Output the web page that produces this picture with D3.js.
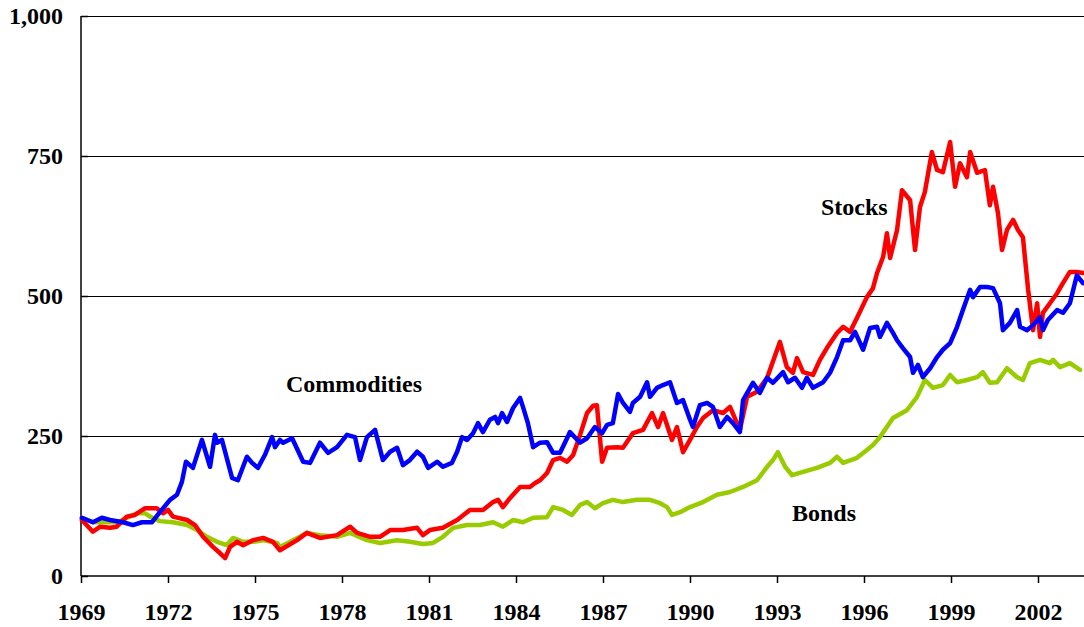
<!DOCTYPE html>
<html>
<head>
<meta charset="utf-8">
<script src="https://cdn.jsdelivr.net/npm/d3@7"></script>
<style>
  html, body { margin: 0; padding: 0; background: #fff; }
  svg { display: block; }
  text { font-family: "Liberation Serif", "Times New Roman", serif; font-weight: bold; fill: #000; }
</style>
</head>
<body>
<svg id="chart" width="1084" height="627"></svg>
<script>
// ---- Data (decimal year, index value) ----
const yTicks = [0, 250, 500, 750, 1000];
const xTicks = [1969, 1972, 1975, 1978, 1981, 1984, 1987, 1990, 1993, 1996, 1999, 2002];

const stocks = [
  [1969.03,100],[1969.41,79],[1969.66,88],[1970.00,86],[1970.23,88],[1970.58,106],[1970.86,109],
  [1971.21,121],[1971.61,121],[1971.83,112],[1972.00,118],[1972.17,106],[1972.66,100],[1972.93,91],
  [1973.21,70],[1973.55,52],[1973.79,41],[1973.97,32],[1974.14,52],[1974.38,61],[1974.59,55],
  [1974.93,64],[1975.28,68],[1975.62,61],[1975.86,46],[1976.45,64],[1976.79,77],[1977.24,68],
  [1977.83,73],[1978.28,88],[1978.52,77],[1978.97,70],[1979.31,70],[1979.66,82],[1980.10,82],
  [1980.59,86],[1980.79,73],[1981.03,82],[1981.48,86],[1981.97,100],[1982.41,118],[1982.86,118],
  [1983.21,132],[1983.38,136],[1983.55,123],[1983.79,139],[1984.14,159],[1984.48,159],[1984.66,166],
  [1984.83,171],[1985.07,184],[1985.28,207],[1985.52,211],[1985.76,204],[1985.97,216],[1986.21,252],
  [1986.45,291],[1986.66,304],[1986.79,305],[1986.97,204],[1987.14,229],[1987.48,230],[1987.69,229],
  [1988.03,255],[1988.38,261],[1988.69,291],[1988.90,266],[1989.07,291],[1989.38,243],[1989.55,266],
  [1989.76,221],[1990.00,243],[1990.24,266],[1990.45,282],[1990.79,296],[1991.14,291],[1991.38,302],
  [1991.72,261],[1991.97,320],[1992.31,329],[1992.66,354],[1993.10,418],[1993.34,373],[1993.55,363],
  [1993.69,389],[1993.90,364],[1994.24,359],[1994.48,386],[1994.72,407],[1995.07,434],[1995.28,445],
  [1995.52,436],[1995.76,461],[1996.10,498],[1996.31,514],[1996.45,541],[1996.66,570],[1996.79,612],
  [1996.90,568],[1997.14,618],[1997.31,689],[1997.59,671],[1997.76,582],[1997.93,659],[1998.10,686],
  [1998.34,757],[1998.52,725],[1998.72,721],[1998.97,775],[1999.14,695],[1999.31,737],[1999.55,712],
  [1999.66,757],[1999.90,720],[2000.17,725],[2000.34,662],[2000.45,695],[2000.62,648],[2000.76,582],
  [2000.93,618],[2001.14,636],[2001.31,618],[2001.48,605],[2001.66,511],[2001.83,439],[2001.97,487],
  [2002.07,427],[2002.17,470],[2002.41,487],[2002.66,505],[2002.86,523],[2003.10,543],[2003.34,543],
  [2003.55,541]
];

const commodities = [
  [1969.03,104],[1969.41,96],[1969.72,104],[1970.00,100],[1970.45,96],[1970.79,91],[1971.10,96],
  [1971.45,96],[1971.72,114],[1972.07,136],[1972.31,145],[1972.48,168],[1972.62,204],[1972.86,193],
  [1973.17,243],[1973.45,195],[1973.62,252],[1973.69,238],[1973.86,243],[1974.21,175],[1974.41,171],
  [1974.72,213],[1974.90,202],[1975.10,193],[1975.34,216],[1975.59,248],[1975.69,230],[1975.86,243],
  [1975.97,238],[1976.28,246],[1976.66,204],[1976.90,202],[1977.24,238],[1977.52,220],[1977.83,230],
  [1978.17,252],[1978.45,248],[1978.62,207],[1978.86,248],[1979.14,261],[1979.41,207],[1979.66,222],
  [1979.90,229],[1980.10,198],[1980.34,207],[1980.59,222],[1980.79,213],[1980.97,193],[1981.28,204],
  [1981.48,195],[1981.79,202],[1981.97,222],[1982.14,248],[1982.31,243],[1982.52,255],[1982.69,273],
  [1982.86,257],[1983.10,279],[1983.28,284],[1983.38,273],[1983.52,291],[1983.69,275],[1983.90,300],
  [1984.14,318],[1984.24,302],[1984.41,273],[1984.59,230],[1984.83,238],[1985.07,239],[1985.28,220],
  [1985.52,220],[1985.76,246],[1985.86,257],[1986.21,238],[1986.45,246],[1986.72,266],[1986.97,255],
  [1987.14,270],[1987.34,273],[1987.52,325],[1987.69,309],[1987.93,293],[1988.03,309],[1988.28,320],
  [1988.52,346],[1988.62,320],[1988.86,336],[1989.07,341],[1989.31,346],[1989.55,309],[1989.76,314],
  [1990.00,279],[1990.10,266],[1990.34,305],[1990.59,309],[1990.79,302],[1991.03,266],[1991.28,284],
  [1991.48,273],[1991.72,257],[1991.83,314],[1992.17,345],[1992.41,327],[1992.66,354],[1992.86,345],
  [1993.21,364],[1993.38,346],[1993.62,354],[1993.86,336],[1994.03,354],[1994.24,336],[1994.59,346],
  [1994.83,363],[1995.07,391],[1995.28,421],[1995.52,421],[1995.69,436],[1995.97,404],[1996.21,443],
  [1996.45,445],[1996.55,427],[1996.79,452],[1997.00,434],[1997.14,421],[1997.34,407],[1997.59,391],
  [1997.69,363],[1997.86,377],[1998.03,355],[1998.28,371],[1998.52,391],[1998.72,404],[1998.97,416],
  [1999.21,445],[1999.41,475],[1999.66,511],[1999.76,498],[2000.00,516],[2000.24,516],[2000.45,514],
  [2000.69,487],[2000.79,439],[2001.03,452],[2001.28,475],[2001.38,445],[2001.62,439],[2001.83,448],
  [2002.07,462],[2002.17,439],[2002.34,457],[2002.66,475],[2002.86,470],[2003.10,487],[2003.34,537],
  [2003.55,523]
];

const bonds = [
  [1969.03,104],[1969.41,96],[1969.90,96],[1970.24,96],[1970.59,104],[1970.93,112],[1971.21,112],
  [1971.45,104],[1971.72,98],[1972.17,96],[1972.66,91],[1973.00,82],[1973.34,70],[1973.69,61],
  [1974.03,55],[1974.24,68],[1974.59,61],[1974.93,61],[1975.28,64],[1975.76,59],[1975.86,52],
  [1976.31,64],[1976.79,77],[1977.24,73],[1977.83,70],[1978.28,77],[1978.86,64],[1979.31,59],
  [1979.90,64],[1980.34,61],[1980.79,57],[1981.14,59],[1981.48,70],[1981.83,86],[1982.31,91],
  [1982.76,91],[1983.21,96],[1983.55,88],[1983.90,100],[1984.24,96],[1984.59,104],[1985.07,105],
  [1985.28,123],[1985.62,118],[1985.93,109],[1986.21,127],[1986.45,132],[1986.72,121],[1987.00,130],
  [1987.34,136],[1987.69,132],[1988.17,136],[1988.62,136],[1988.97,130],[1989.21,123],[1989.38,109],
  [1989.66,114],[1990.00,123],[1990.45,132],[1990.93,145],[1991.38,150],[1991.83,159],[1992.31,171],
  [1992.66,195],[1992.86,207],[1993.03,221],[1993.28,195],[1993.52,180],[1993.90,186],[1994.38,193],
  [1994.83,202],[1995.07,213],[1995.28,202],[1995.76,211],[1996.10,225],[1996.31,234],[1996.55,248],
  [1997.00,282],[1997.48,296],[1997.83,320],[1998.10,350],[1998.38,336],[1998.72,341],[1998.97,359],
  [1999.21,346],[1999.55,350],[1999.90,355],[2000.10,364],[2000.34,345],[2000.59,346],[2000.93,371],
  [2001.28,355],[2001.48,350],[2001.72,380],[2002.07,386],[2002.41,380],[2002.52,386],[2002.76,373],
  [2003.10,380],[2003.45,368]
];

const seriesNames = ["Commodities", "Stocks", "Bonds"];

// ---- Layout ----
const svg = d3.select("#chart");
const plotLeft = 81, plotTop = 16, plotBottom = 576;
const x = d3.scaleLinear().domain([1969, 2004]).range([plotLeft, plotLeft + 35 * 29]);
const y = d3.scaleLinear().domain([0, 1000]).range([plotBottom, plotTop]);
const fontSize = "24px";

// gridlines
svg.append("g").selectAll("line").data(yTicks.filter(d => d > 0)).join("line")
  .attr("x1", plotLeft).attr("x2", 1084)
  .attr("y1", d => Math.round(y(d)) + 0.5).attr("y2", d => Math.round(y(d)) + 0.5)
  .attr("stroke", "#000").attr("stroke-width", 1);

// y axis
const yAxis = d3.axisRight(y).tickValues(yTicks).tickSize(7).tickFormat("");
const gy = svg.append("g").attr("transform", `translate(${plotLeft},0)`).call(yAxis);
gy.select(".domain").attr("stroke", "#000").attr("stroke-width", 1.5).attr("d", `M0,${plotTop}V${plotBottom}`);
gy.selectAll(".tick line").attr("stroke", "#000").attr("stroke-width", 1.5);

svg.append("g").selectAll("text").data(yTicks).join("text")
  .attr("x", 63).attr("y", d => y(d))
  .attr("dy", "0.34em")
  .attr("text-anchor", "end")
  .style("font-size", fontSize)
  .text(d => d3.format(",")(d));

// x axis
const xAxis = d3.axisBottom(x).tickValues(xTicks).tickSize(7).tickFormat(d => d);
const gx = svg.append("g").attr("transform", `translate(0,${plotBottom})`).call(xAxis);
gx.select(".domain").attr("stroke", "#000").attr("stroke-width", 1.5).attr("d", `M${plotLeft},0H1084`);
gx.selectAll(".tick line").attr("stroke", "#000").attr("stroke-width", 1.5);
gx.selectAll(".tick text")
  .attr("y", 0).attr("dy", 0)
  .attr("transform", "translate(0,44)")
  .style("font-size", fontSize)
  .style("font-family", '"Liberation Serif", "Times New Roman", serif')
  .style("font-weight", "bold")
  .attr("fill", "#000");

// lines
const line = d3.line().x(d => x(d[0])).y(d => y(d[1])).curve(d3.curveLinear);
const allSeries = [bonds, stocks, commodities];
const colorsInOrder = ["#99cc00", "#ff0000", "#0000ff"];
svg.append("g").selectAll("path").data(allSeries).join("path")
  .attr("d", line)
  .attr("fill", "none")
  .attr("stroke", (d, i) => colorsInOrder[i])
  .attr("stroke-width", 4.5)
  .attr("stroke-linejoin", "round")
  .attr("stroke-linecap", "round");

// series labels
const labelPos = [[286, 392], [821, 215], [792, 521]];
svg.append("g").selectAll("text").data(seriesNames).join("text")
  .attr("x", (d, i) => labelPos[i][0])
  .attr("y", (d, i) => labelPos[i][1])
  .style("font-size", fontSize)
  .text(d => d);
</script>
</body>
</html>
